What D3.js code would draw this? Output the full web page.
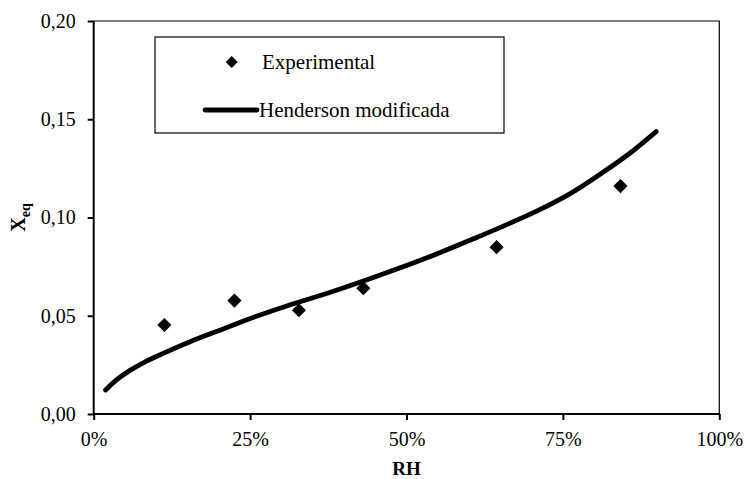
<!DOCTYPE html>
<html>
<head>
<meta charset="utf-8">
<script src="https://cdn.jsdelivr.net/npm/d3@7"></script>
<style>
  html, body { margin: 0; padding: 0; background: #fff; }
  svg { display: block; font-family: "Liberation Serif", "Times New Roman", serif; }
</style>
</head>
<body>
<svg id="chart" width="745" height="479"></svg>
<script>
// Experimental equilibrium moisture (Xeq) versus relative humidity
const expRH  = [0.113, 0.225, 0.328, 0.431, 0.644, 0.842];
const expXeq = [0.0453, 0.0577, 0.0528, 0.0640, 0.0849, 0.1160];

// Modified Henderson model curve
const modelRH  = [0.019, 0.035, 0.058, 0.080, 0.101, 0.154, 0.207, 0.260, 0.305, 0.377, 0.457, 0.537, 0.608, 0.654, 0.708, 0.761, 0.814, 0.857, 0.899];
const modelXeq = [0.0122, 0.0170, 0.0222, 0.0262, 0.0294, 0.0368, 0.0433, 0.0497, 0.0546, 0.0618, 0.0706, 0.0800, 0.0893, 0.0955, 0.1032, 0.1120, 0.1230, 0.1327, 0.1437];

const xTicks = [0, 0.25, 0.5, 0.75, 1];
const yTicks = [0, 0.05, 0.10, 0.15, 0.20];

const legendLabels = ["Experimental", "Henderson modificada"];

const svg = d3.select("#chart");
const plotL = 93.7, plotR = 719.3, plotT = 21, plotB = 414;

const x = d3.scaleLinear().domain([0, 1]).range([plotL, plotR]);
const y = d3.scaleLinear().domain([0, 0.20]).range([plotB, plotT]);

// plot frame (top and right)
svg.append("path")
  .attr("d", `M${plotL},${plotT}H${plotR}V${plotB}`)
  .attr("fill", "none").attr("stroke", "#000").attr("stroke-width", 1.2);

// axes
const fmtY = d => d3.format(".2f")(d).replace(".", ",");
const fmtX = d => d3.format(".0%")(d);

const yAxis = svg.append("g")
  .attr("transform", `translate(${plotL},0)`)
  .call(d3.axisLeft(y).tickValues(yTicks).tickFormat(fmtY).tickSize(6).tickPadding(12));
const xAxis = svg.append("g")
  .attr("transform", `translate(0,${plotB})`)
  .call(d3.axisBottom(x).tickValues(xTicks).tickFormat(fmtX).tickSize(6).tickPadding(12));

yAxis.select(".domain").attr("d", `M0,${plotT}V${plotB}`);
xAxis.select(".domain").attr("d", `M${plotL},0H${plotR}`);
[yAxis, xAxis].forEach(g => {
  g.select(".domain").attr("stroke", "#000").attr("stroke-width", 2);
  g.selectAll(".tick line").attr("stroke", "#000").attr("stroke-width", 2);
  g.selectAll(".tick text").attr("fill", "#000")
    .style("font-family", "'Liberation Serif', 'Times New Roman', serif")
    .style("font-size", "20px");
});

// axis titles
svg.append("text")
  .attr("x", x(0.5)).attr("y", 475)
  .attr("text-anchor", "middle")
  .style("font-size", "19px").style("font-weight", "bold")
  .text("RH");

const yt = svg.append("text")
  .attr("transform", `translate(25,${(plotT + plotB) / 2}) rotate(-90)`)
  .attr("text-anchor", "middle")
  .style("font-weight", "bold");
yt.append("tspan").style("font-size", "20px").text("X");
yt.append("tspan").style("font-size", "14px").attr("dy", 5).text("eq");

// model curve
const modelData = modelRH.map((r, i) => ({ r, v: modelXeq[i] }));
svg.append("path")
  .datum(modelData)
  .attr("fill", "none").attr("stroke", "#000")
  .attr("stroke-width", 4.8).attr("stroke-linecap", "round").attr("stroke-linejoin", "round")
  .attr("d", d3.line().x(d => x(d.r)).y(d => y(d.v)).curve(d3.curveCatmullRom.alpha(0.5)));

// experimental points (diamonds)
const diamond = d3.symbol().type(d3.symbolSquare).size(100);
svg.append("g").selectAll("path")
  .data(expRH.map((r, i) => ({ r, v: expXeq[i] })))
  .join("path")
  .attr("d", diamond)
  .attr("transform", d => `translate(${x(d.r)},${y(d.v)}) rotate(45)`)
  .attr("fill", "#000");

// legend
const lg = svg.append("g");
lg.append("rect")
  .attr("x", 155).attr("y", 37).attr("width", 349).attr("height", 96)
  .attr("fill", "#fff").attr("stroke", "#000").attr("stroke-width", 1.2);
lg.append("path")
  .attr("d", d3.symbol().type(d3.symbolSquare).size(72))
  .attr("transform", "translate(231.7,62) rotate(45)")
  .attr("fill", "#000");
lg.append("text").attr("x", 262).attr("y", 69)
  .style("font-size", "21px").text(legendLabels[0]);
lg.append("line")
  .attr("x1", 205).attr("x2", 257).attr("y1", 110).attr("y2", 110)
  .attr("stroke", "#000").attr("stroke-width", 4.8).attr("stroke-linecap", "round");
lg.append("text").attr("x", 259).attr("y", 117)
  .style("font-size", "21px").text(legendLabels[1]);
</script>
</body>
</html>
